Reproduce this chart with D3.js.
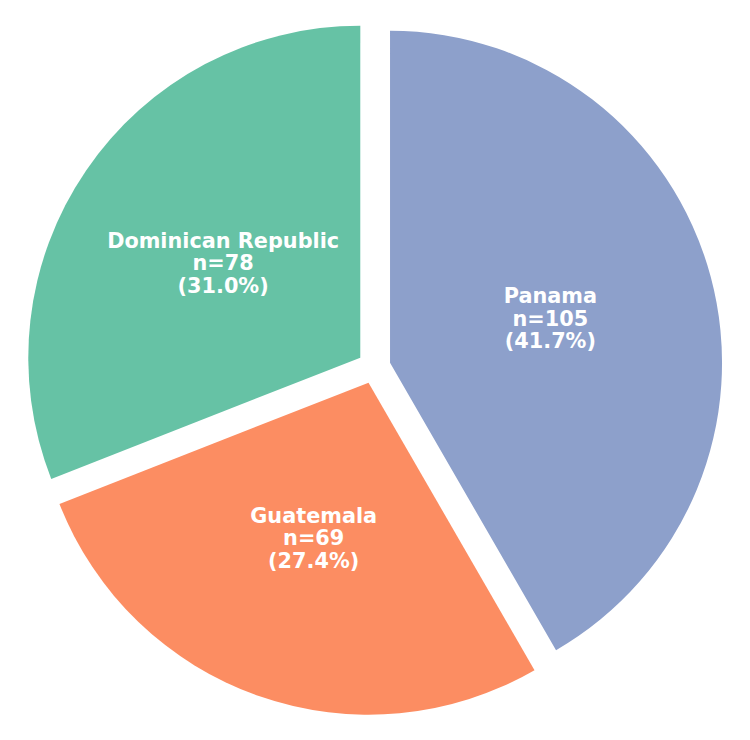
<!DOCTYPE html>
<html>
<head>
<meta charset="utf-8">
<script src="https://cdn.jsdelivr.net/npm/d3@7"></script>
<style>
  html, body { margin: 0; padding: 0; background: #ffffff; }
  svg { display: block; }
</style>
</head>
<body>
<svg id="chart" width="750" height="740"></svg>
<script>
const categories = ["Panama", "Guatemala", "Dominican Republic"];
const counts = [105, 69, 78];
const percentLabels = ["41.7%", "27.4%", "31.0%"];
const colors = ["#8da0cb", "#fc8d62", "#66c2a5"];

const W = 750, H = 740;
const cx = 374, cy = 367, R = 332;
const explode = 0.05 * R;

const svg = d3.select("#chart");
const g = svg.append("g").attr("transform", `translate(${cx},${cy})`);

const data = categories.map((c, i) => ({ name: c, n: counts[i], pct: percentLabels[i], color: colors[i] }));

const pie = d3.pie().value(d => d.n).sort(null).startAngle(0).endAngle(2 * Math.PI);
const arc = d3.arc().innerRadius(0).outerRadius(R);
const arcs = pie(data);

const slices = g.selectAll("g.slice").data(arcs).enter().append("g")
  .attr("class", "slice")
  .attr("transform", d => {
    const a = (d.startAngle + d.endAngle) / 2;
    return `translate(${explode * Math.sin(a)},${-explode * Math.cos(a)})`;
  });

slices.append("path")
  .attr("d", arc)
  .attr("fill", d => d.data.color);

const lineH = 22.5;
slices.each(function(d) {
  const a = (d.startAngle + d.endAngle) / 2;
  const lx = 0.5 * R * Math.sin(a);
  const ly = -0.5 * R * Math.cos(a);
  const lines = [d.data.name, `n=${d.data.n}`, `(${d.data.pct})`];
  const t = d3.select(this).append("text")
    .attr("text-anchor", "middle")
    .attr("font-family", "DejaVu Sans")
    .attr("font-weight", "bold")
    .attr("font-size", 20.8)
    .attr("fill", "#ffffff");
  lines.forEach((s, i) => {
    t.append("tspan").attr("x", lx).attr("y", ly + (i - 1) * lineH + 6).text(s);
  });
});
</script>
</body>
</html>
